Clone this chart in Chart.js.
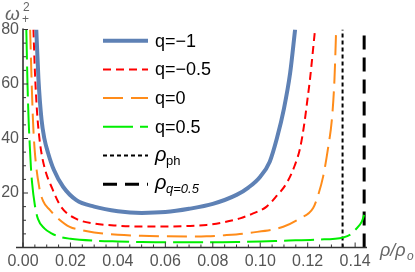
<!DOCTYPE html>
<html><head><meta charset="utf-8">
<script src="https://cdn.jsdelivr.net/npm/chart.js@4/dist/chart.umd.min.js"></script>
<style>html,body{margin:0;padding:0;background:#fff;overflow:hidden}</style>
</head><body>
<canvas id="c" width="415" height="272" style="display:block;width:415px;height:272px"></canvas>
<script>
// ---- data ----
const seriesLabels = ['q=\u22121', 'q=\u22120.5', 'q=0', 'q=0.5'];
const rhoQm1 = [0.0056,0.0065,0.0078,0.009,0.0106,0.013,0.0169,0.0225,0.03,0.04,0.05,0.06,0.07,0.08,0.09,0.095,0.10,0.104,0.107,0.110,0.1126,0.1147];
const wQm1   = [80,62,47,40,34.6,28.5,22.3,17.4,15,13.3,12.7,13,14.2,16,19.3,22,26,31.5,40,51,64,80];
const rhoQm05 = [0.0044,0.005,0.0059,0.0068,0.0078,0.0095,0.012,0.016,0.0225,0.03,0.04,0.05,0.06,0.07,0.0774,0.085,0.0915,0.097,0.1027,0.107,0.1111,0.1145,0.1168,0.1185,0.120,0.121,0.1231];
const wQm05   = [80,65,50,41,34.6,28,22.3,15,10.5,8.8,8.0,7.7,7.7,7.9,8.3,9.3,10.7,12.5,15,19,23.6,30,36.5,45,55,62,80];
const rhoQ0 = [0.003,0.0036,0.0042,0.0049,0.0068,0.0085,0.0113,0.015,0.0197,0.025,0.03,0.04,0.05,0.06,0.07,0.0774,0.085,0.0957,0.1097,0.1168,0.1223,0.1245,0.1265,0.1285,0.1303,0.1313,0.132];
const wQ0   = [80,62,46.8,36,22.3,17,13.8,10.5,7.6,6.3,5.5,4.7,4.3,4.1,4.0,4.1,4.5,5.4,7.6,10.7,14.5,19.5,26,36,48,62,80];
const rhoQ05 = [0.0014,0.0019,0.0024,0.0028,0.0033,0.0038,0.005,0.0063,0.009,0.012,0.0155,0.02,0.03,0.04,0.05,0.06,0.07,0.08,0.09,0.10,0.11,0.124,0.135,0.1385,0.140,0.1428,0.1438];
const wQ05   = [80,60,46,38.5,30,24,15.5,10.5,7,5.2,3.9,3.2,2.5,2.2,2.0,1.9,1.9,1.9,2.0,2.2,2.5,2.9,3.7,5,6.4,9.5,12];
const rhoPh = 0.1347;      // photon sphere
const rhoQ05Limit = 0.1438;
const xTicks = [0,0.02,0.04,0.06,0.08,0.10,0.12,0.14];
const xMinorTicks = [0.005,0.01,0.015,0.025,0.03,0.035,0.045,0.05,0.055,0.065,0.07,0.075,0.085,0.09,0.095,0.105,0.11,0.115,0.125,0.13,0.135];
const yTicks = [0,20,40,60,80];
const yMinorTicks = [5,10,15,25,30,35,45,50,55,65,70,75];

const pts = (xs, ys) => xs.map((x, i) => ({x, y: ys[i]}));

const curveBase = {pointRadius:0, fill:false, tension:0.4, cubicInterpolationMode:'monotone'};
const datasets = [
  Object.assign({label: seriesLabels[0], data: pts(rhoQm1, wQm1), borderColor:'#5E81B5', borderWidth:4}, curveBase),
  Object.assign({label: seriesLabels[1], data: pts(rhoQm05, wQm05), borderColor:'#FF0000', borderWidth:2, borderDash:[8,5]}, curveBase),
  Object.assign({label: seriesLabels[2], data: pts(rhoQ0, wQ0), borderColor:'#FF8C1A', borderWidth:2, borderDash:[20,8]}, curveBase),
  Object.assign({label: seriesLabels[3], data: pts(rhoQ05, wQ05), borderColor:'#00EE00', borderWidth:2, borderDash:[30,7]}, curveBase),
  {label:'rho_ph', data: pts([rhoPh, rhoPh],[0,80]), borderColor:'#000', borderWidth:2, borderDash:[4,3], pointRadius:0, tension:0},
  {label:'rho_q', data: pts([rhoQ05Limit, rhoQ05Limit],[0,80]), borderColor:'#000', borderWidth:3, borderDash:[14,8], pointRadius:0, tension:0}
];

const tickColor = '#555';
const decor = {
  id:'decor',
  afterDraw(chart){
    const ctx = chart.ctx, xs = chart.scales.x, ys = chart.scales.y;
    const x0 = xs.getPixelForValue(0), y0 = ys.getPixelForValue(0);
    const xr = xs.getPixelForValue(xs.max), yt = ys.getPixelForValue(ys.max);
    ctx.save();
    ctx.strokeStyle = '#333'; ctx.lineWidth = 1.6;
    ctx.beginPath();
    ctx.moveTo(x0 - 7, y0); ctx.lineTo(xr, y0);
    ctx.moveTo(x0, y0); ctx.lineTo(x0, yt - 1);
    ctx.stroke();
    ctx.lineWidth = 1;
    ctx.beginPath();
    xTicks.forEach(v => { const p = xs.getPixelForValue(v); ctx.moveTo(p, y0); ctx.lineTo(p, y0 - 5); });
    xMinorTicks.forEach(v => { const p = xs.getPixelForValue(v); ctx.moveTo(p, y0); ctx.lineTo(p, y0 - 3); });
    yTicks.forEach(v => { const p = ys.getPixelForValue(v); ctx.moveTo(x0, p); ctx.lineTo(x0 + 5, p); });
    yMinorTicks.forEach(v => { const p = ys.getPixelForValue(v); ctx.moveTo(x0, p); ctx.lineTo(x0 + 3, p); });
    ctx.stroke();

    // axis labels
    ctx.fillStyle = '#666';
    ctx.textBaseline = 'alphabetic';
    ctx.textAlign = 'left';
    ctx.font = 'italic 19px "Liberation Sans", Arial, sans-serif';
    ctx.fillText('\u03C9', 5, 20);
    ctx.font = '12px "Liberation Sans", Arial, sans-serif';
    ctx.fillText('2', 23, 11);
    ctx.fillText('+', 22, 23);
    ctx.font = 'italic 18px "Liberation Sans", Arial, sans-serif';
    ctx.fillText('\u03C1/\u03C1', 380, 256);
    ctx.font = 'italic 12px "Liberation Sans", Arial, sans-serif';
    ctx.fillText('o', 407, 260);

    // legend
    const lx0 = 103, lx1 = 148, tx = 155, rowY = [40.7, 69.4, 98.1, 126.8, 155.5, 184.2];
    chart.data.datasets.forEach((d, i) => {
      const y = rowY[i];
      ctx.save();
      ctx.strokeStyle = d.borderColor; ctx.lineWidth = d.borderWidth;
      ctx.setLineDash(d.borderDash || []);
      ctx.beginPath(); ctx.moveTo(lx0, y); ctx.lineTo(lx1, y); ctx.stroke();
      ctx.restore();
    });
    ctx.fillStyle = '#000';
    ctx.textBaseline = 'middle';
    ctx.font = '18px "Liberation Sans", Arial, sans-serif';
    for (let i = 0; i < 4; i++) ctx.fillText(seriesLabels[i], tx, rowY[i] + 1);
    ctx.textBaseline = 'alphabetic';
    ctx.font = 'italic 20px "Liberation Sans", Arial, sans-serif';
    ctx.fillText('\u03C1', tx, rowY[4] + 5);
    ctx.fillText('\u03C1', tx, rowY[5] + 5);
    ctx.font = '13px "Liberation Sans", Arial, sans-serif';
    ctx.fillText('ph', tx + 11, rowY[4] + 9);
    ctx.font = 'italic 13px "Liberation Sans", Arial, sans-serif';
    ctx.fillText('q=0.5', tx + 11, rowY[5] + 9);
    ctx.restore();
  }
};

new Chart(document.getElementById('c'), {
  type:'line',
  data:{datasets},
  options:{
    responsive:false, animation:false, devicePixelRatio:1,
    layout:{padding:{left:0, right:48, top:29.5, bottom:0}},
    plugins:{legend:{display:false}, tooltip:{enabled:false}},
    scales:{
      x:{type:'linear', min:0, max:0.145,
         afterFit(s){ s.height = 24.5; },
         afterBuildTicks(s){ s.ticks = xTicks.map(v => ({value:v})); },
         grid:{display:false, drawTicks:false}, border:{display:false},
         ticks:{autoSkip:false, maxRotation:0, padding:4, color:tickColor,
                font:{family:'"Liberation Sans", Arial, sans-serif', size:16},
                callback:v => v.toFixed(2)}},
      y:{type:'linear', min:0, max:80,
         afterFit(s){ s.width = 23; },
         afterBuildTicks(s){ s.ticks = yTicks.map(v => ({value:v})); },
         grid:{display:false, drawTicks:false}, border:{display:false},
         ticks:{padding:4, color:tickColor,
                font:{family:'"Liberation Sans", Arial, sans-serif', size:16},
                callback:v => v === 0 ? '' : String(v)}}
    }
  },
  plugins:[decor]
});
</script>
</body></html>
